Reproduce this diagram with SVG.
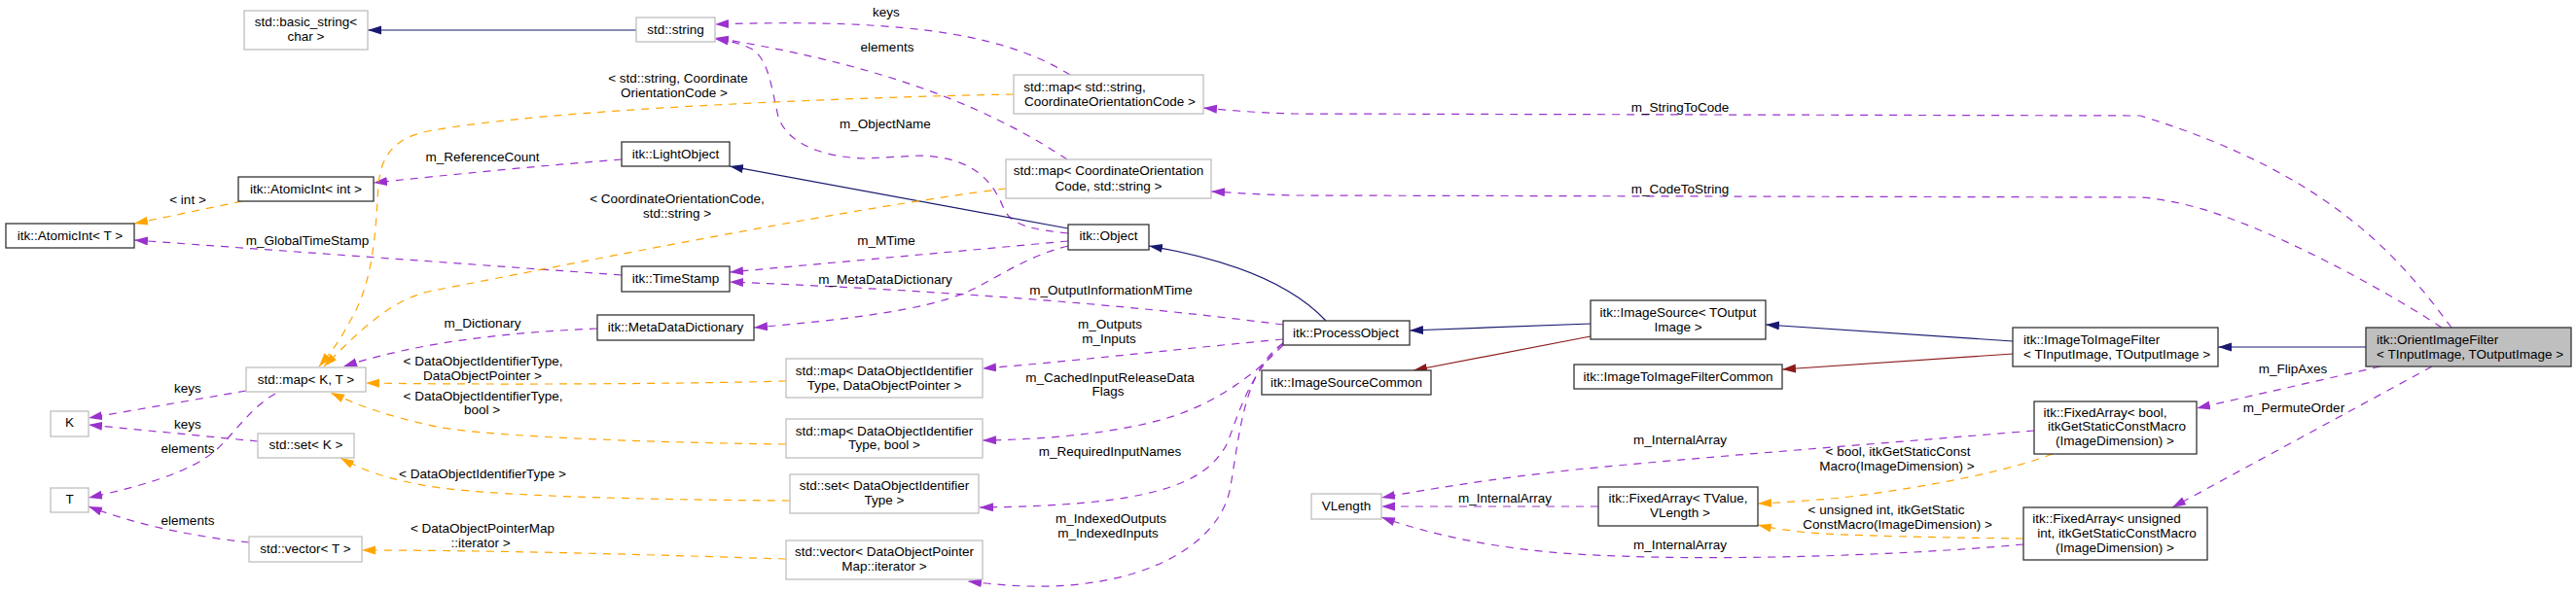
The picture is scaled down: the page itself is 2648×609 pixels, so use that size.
<svg xmlns="http://www.w3.org/2000/svg" width="2648" height="609" viewBox="0 0 2648 609">
<style>
text{font-family:"Liberation Sans",Arial,Helvetica,sans-serif;font-size:13.5px;fill:#000;text-anchor:middle}
.ls{text-anchor:start}
.doc{fill:#fff;stroke:#333;stroke-width:1.3}
.und{fill:#fff;stroke:#bfbfbf;stroke-width:1.3}
.cur{fill:#bfbfbf;stroke:#333;stroke-width:1.3}
.e{fill:none;stroke-width:1.2}
.p{stroke:#9a32cd;stroke-dasharray:8,7;marker-end:url(#ap)}
.o{stroke:#ffa500;stroke-dasharray:8,7;marker-end:url(#ao)}
.b{stroke:#191970;marker-end:url(#ab)}
.r{stroke:#8b1a1a;marker-end:url(#ar)}
</style>
<defs>
<marker id="ap" markerUnits="userSpaceOnUse" markerWidth="15" markerHeight="10" refX="14" refY="4.5" orient="auto"><path d="M0,0 L14,4.5 L0,9 z" fill="#9a32cd" stroke="none"/></marker>
<marker id="ao" markerUnits="userSpaceOnUse" markerWidth="15" markerHeight="10" refX="14" refY="4.5" orient="auto"><path d="M0,0 L14,4.5 L0,9 z" fill="#ffa500" stroke="none"/></marker>
<marker id="ab" markerUnits="userSpaceOnUse" markerWidth="15" markerHeight="10" refX="14" refY="4.5" orient="auto"><path d="M0,0 L14,4.5 L0,9 z" fill="#191970" stroke="none"/></marker>
<marker id="ar" markerUnits="userSpaceOnUse" markerWidth="15" markerHeight="10" refX="14" refY="4.5" orient="auto"><path d="M0,0 L14,4.5 L0,9 z" fill="#8b1a1a" stroke="none"/></marker>
</defs>
<rect width="2648" height="609" fill="#fff"/>
<g id="connectors">
<path class="e b" d="M654,31 L378,31"/>
<path class="e p" d="M1100,77 C1040,40 950,18 735,25"/>
<text x="911" y="16.5">keys</text>
<path class="e p" d="M1097,164 C1030,120 930,70 735,39"/>
<text x="912" y="53">elements</text>
<path class="e p" d="M1098,240 C1060,236 1040,232 1032,215 C1020,185 1000,162 946,160 L890,163 C850,162 810,150 800,120 C793,90 790,60 772,50 C760,44 748,42 735,40"/>
<text x="910" y="131.5">m_ObjectName</text>
<path class="e p" d="M639,164 C560,170 460,180 384,188"/>
<text x="496" y="165.5">m_ReferenceCount</text>
<path class="e o" d="M249,207 L138,230"/>
<text x="193" y="209.5">&lt; int &gt;</text>
<path class="e p" d="M639,283 L138,247"/>
<text x="316" y="251.5">m_GlobalTimeStamp</text>
<path class="e b" d="M1098,235 L750,171"/>
<path class="e p" d="M1098,248 L750,280"/>
<text x="911" y="252">m_MTime</text>
<path class="e p" d="M1319,334 C1150,312 950,298 750,290"/>
<text x="1142" y="303">m_OutputInformationMTime</text>
<path class="e p" d="M1098,253 C1050,265 1020,290 990,302 C950,318 880,328 775,337"/>
<text x="910" y="291.5">m_MetaDataDictionary</text>
<path class="e p" d="M614,338 C520,342 430,352 353,377"/>
<text x="496" y="336.5">m_Dictionary</text>
<path class="e o" d="M1042,97 C880,100 560,112 440,135 C405,142 392,160 389,190 C386,240 384,290 360,330 C350,350 338,365 328,377"/>
<text x="697" y="84.8">&lt; std::string, Coordinate</text>
<text x="693" y="99.5">OrientationCode &gt;</text>
<path class="e o" d="M1034,194 C880,213 620,265 440,300 C400,310 370,340 333,377"/>
<text x="696" y="208.8">&lt; CoordinateOrientationCode,</text>
<text x="696" y="224">std::string &gt;</text>
<path class="e p" d="M1319,349 C1200,360 1100,372 1010,379"/>
<text x="1141" y="337.5">m_Outputs</text>
<text x="1140" y="352.5">m_Inputs</text>
<path class="e o" d="M808,392 C700,395 500,396 376,394"/>
<text x="496.5" y="376">&lt; DataObjectIdentifierType,</text>
<text x="496" y="391">DataObjectPointer &gt;</text>
<path class="e o" d="M808,457 C650,455 480,448 440,437 C400,428 370,418 340,404"/>
<text x="496.5" y="411.5">&lt; DataObjectIdentifierType,</text>
<text x="495.5" y="425.5">bool &gt;</text>
<path class="e o" d="M812,515 C650,514 500,510 440,500 C400,493 375,485 350,471"/>
<text x="496" y="491.5">&lt; DataObjectIdentifierType &gt;</text>
<path class="e o" d="M808,575 C650,570 500,566 372,566"/>
<text x="496" y="548">&lt; DataObjectPointerMap</text>
<text x="494" y="563">::iterator &gt;</text>
<path class="e p" d="M253,402 L91,430"/>
<text x="193" y="404">keys</text>
<path class="e p" d="M265,454 L91,437"/>
<text x="193" y="440.5">keys</text>
<path class="e p" d="M283,405 C260,418 245,440 230,455 C210,478 170,495 91,512"/>
<text x="193" y="465.5">elements</text>
<path class="e p" d="M256,558 C200,552 140,540 91,521"/>
<text x="193" y="539.5">elements</text>
<path class="e b" d="M1363,330 C1330,295 1270,268 1181,253"/>
<path class="e b" d="M1635,333 L1449,340"/>
<path class="e r" d="M1635,346 L1453,381"/>
<path class="e b" d="M2069,351 L1815,334"/>
<path class="e r" d="M2069,364 L1832,380"/>
<path class="e b" d="M2432,357 L2280,357"/>
<path class="e p" d="M2447,377 L2258,420"/>
<text x="2357" y="384">m_FlipAxes</text>
<path class="e p" d="M2500,377 L2233,522"/>
<text x="2358" y="424">m_PermuteOrder</text>
<path class="e p" d="M2520,337 C2470,270 2400,180 2200,119 L1330,117 C1290,116 1260,113 1237,111"/>
<text x="1727" y="114.8">m_StringToCode</text>
<path class="e p" d="M2510,337 C2470,310 2350,240 2260,214 C2235,207 2215,204 2200,203 L1330,201 C1290,200 1265,198 1245,197"/>
<text x="1727" y="199">m_CodeToString</text>
<path class="e p" d="M2091,443 C1950,455 1750,470 1620,483 C1530,493 1470,503 1420,512"/>
<text x="1727" y="456.5">m_InternalArray</text>
<path class="e p" d="M1643,521 L1420,521"/>
<text x="1547" y="517">m_InternalArray</text>
<path class="e p" d="M2080,560 C1950,572 1750,578 1620,570 C1540,565 1470,550 1420,532"/>
<text x="1727" y="564.8">m_InternalArray</text>
<path class="e o" d="M2110,467 C2050,490 1950,505 1893,512 C1860,515 1830,517 1807,518"/>
<text x="1951" y="469">&lt; bool, itkGetStaticConst</text>
<text x="1950" y="484">Macro(ImageDimension) &gt;</text>
<path class="e o" d="M2080,554 C1990,553 1900,551 1860,548 C1840,546 1820,543 1807,540"/>
<text x="1939" y="529">&lt; unsigned int, itkGetStatic</text>
<text x="1950.5" y="544">ConstMacro(ImageDimension) &gt;</text>
<path class="e p" d="M1319,355 C1290,385 1250,415 1200,430 C1150,445 1080,452 1010,453"/>
<text x="1141" y="392.5">m_CachedInputReleaseData</text>
<text x="1139" y="407">Flags</text>
<path class="e p" d="M1319,353 C1285,385 1275,420 1262,455 C1240,500 1180,520 1007,522"/>
<text x="1141" y="468.5">m_RequiredInputNames</text>
<path class="e p" d="M1319,353 C1280,380 1275,440 1265,500 C1255,560 1180,600 1080,603 C1050,604 1020,601 995,598"/>
<text x="1142" y="537.5">m_IndexedOutputs</text>
<text x="1139" y="552.5">m_IndexedInputs</text>
</g>
<g id="n_basic_string"><rect class="und" x="251" y="11" width="127" height="40"/><text x="314.5" y="27.2">std::basic_string&lt;</text><text x="314.5" y="41.5">char &gt;</text></g>
<g id="n_std_string"><rect class="und" x="654" y="18" width="81" height="25"/><text x="694.5" y="35">std::string</text></g>
<g id="n_atomicint_int"><rect class="doc" x="245" y="182" width="139" height="25"/><text x="314.5" y="198.5">itk::AtomicInt&lt; int &gt;</text></g>
<g id="n_atomicint_t"><rect class="doc" x="6" y="230" width="132" height="25"/><text x="72" y="246.5">itk::AtomicInt&lt; T &gt;</text></g>
<g id="n_lightobject"><rect class="doc" x="639" y="146" width="111" height="25"/><text x="694.5" y="162.5">itk::LightObject</text></g>
<g id="n_timestamp"><rect class="doc" x="639" y="274" width="111" height="26"/><text x="694.5" y="290.5">itk::TimeStamp</text></g>
<g id="n_metadatadictionary"><rect class="doc" x="614" y="324" width="161" height="26"/><text x="694.5" y="341">itk::MetaDataDictionary</text></g>
<g id="n_map_kt"><rect class="und" x="253" y="378" width="123" height="25"/><text x="314.5" y="394.5">std::map&lt; K, T &gt;</text></g>
<g id="n_k"><rect class="und" x="52" y="423" width="39" height="26"/><text x="71.5" y="439">K</text></g>
<g id="n_set_k"><rect class="und" x="265" y="446" width="99" height="25"/><text x="314.5" y="462">std::set&lt; K &gt;</text></g>
<g id="n_t"><rect class="und" x="52" y="502" width="39" height="25"/><text x="71.5" y="518">T</text></g>
<g id="n_vector_t"><rect class="und" x="256" y="552" width="116" height="26"/><text x="314" y="569">std::vector&lt; T &gt;</text></g>
<g id="n_map_string_code"><rect class="und" x="1042" y="77" width="195" height="40"/><text x="1115" y="93.5">std::map&lt; std::string,</text><text x="1141" y="108.5">CoordinateOrientationCode &gt;</text></g>
<g id="n_map_code_string"><rect class="und" x="1034" y="164" width="211" height="40"/><text x="1139.5" y="180">std::map&lt; CoordinateOrientation</text><text x="1139.5" y="195.5">Code, std::string &gt;</text></g>
<g id="n_object"><rect class="doc" x="1098" y="231" width="83" height="26"/><text x="1139.5" y="247">itk::Object</text></g>
<g id="n_map_doi_dop"><rect class="und" x="808" y="369" width="202" height="40"/><text x="909" y="385.5">std::map&lt; DataObjectIdentifier</text><text x="909" y="400.5">Type, DataObjectPointer &gt;</text></g>
<g id="n_map_doi_bool"><rect class="und" x="808" y="431" width="202" height="40"/><text x="909" y="447.5">std::map&lt; DataObjectIdentifier</text><text x="909" y="461.5">Type, bool &gt;</text></g>
<g id="n_set_doi"><rect class="und" x="812" y="488" width="194" height="40"/><text x="909" y="504">std::set&lt; DataObjectIdentifier</text><text x="909" y="519">Type &gt;</text></g>
<g id="n_vector_dop"><rect class="und" x="808" y="556" width="202" height="40"/><text x="909" y="572">std::vector&lt; DataObjectPointer</text><text x="909" y="587">Map::iterator &gt;</text></g>
<g id="n_processobject"><rect class="doc" x="1319" y="330" width="130" height="25"/><text x="1383.5" y="346.5">itk::ProcessObject</text></g>
<g id="n_imagesourcecommon"><rect class="doc" x="1297" y="381" width="174" height="25"/><text x="1384" y="397.5">itk::ImageSourceCommon</text></g>
<g id="n_imagesource"><rect class="doc" x="1635" y="309" width="180" height="40"/><text x="1725" y="325.5">itk::ImageSource&lt; TOutput</text><text x="1725" y="340.5">Image &gt;</text></g>
<g id="n_imagetoimagefiltercommon"><rect class="doc" x="1618" y="375" width="214" height="25"/><text x="1725" y="391.5">itk::ImageToImageFilterCommon</text></g>
<g id="n_imagetoimagefilter"><rect class="doc" x="2069" y="337" width="211" height="40"/><text class="ls" x="2080" y="353.5">itk::ImageToImageFilter</text><text class="ls" x="2080" y="368.5">&lt; TInputImage, TOutputImage &gt;</text></g>
<g id="n_orientimagefilter"><rect class="cur" x="2432" y="337" width="211" height="40"/><text class="ls" x="2443" y="353.5">itk::OrientImageFilter</text><text class="ls" x="2443" y="368.5">&lt; TInputImage, TOutputImage &gt;</text></g>
<g id="n_fixedarray_bool"><rect class="doc" x="2091" y="413" width="167" height="54"/><text x="2164" y="429">itk::FixedArray&lt; bool,</text><text x="2176" y="443">itkGetStaticConstMacro</text><text x="2174" y="458">(ImageDimension) &gt;</text></g>
<g id="n_fixedarray_uint"><rect class="doc" x="2080" y="522" width="189" height="54"/><text x="2165.5" y="538">itk::FixedArray&lt; unsigned</text><text x="2176" y="553">int, itkGetStaticConstMacro</text><text x="2174" y="568">(ImageDimension) &gt;</text></g>
<g id="n_vlength"><rect class="und" x="1348" y="508" width="72" height="26"/><text x="1384" y="525">VLength</text></g>
<g id="n_fixedarray_tvalue"><rect class="doc" x="1643" y="501" width="164" height="40"/><text x="1725" y="517">itk::FixedArray&lt; TValue,</text><text x="1727" y="532">VLength &gt;</text></g>
</svg>
